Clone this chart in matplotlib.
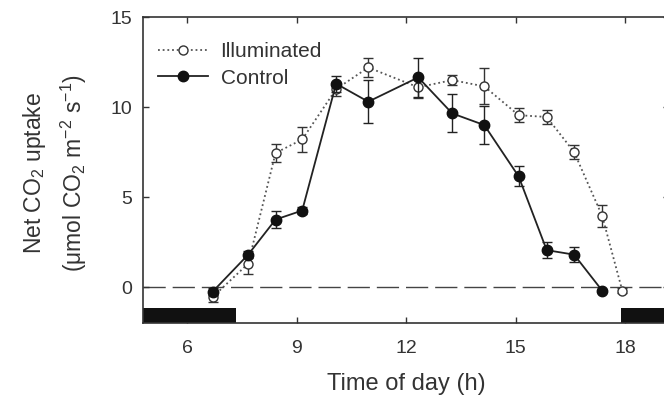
import matplotlib
matplotlib.use("Agg")
import matplotlib.pyplot as plt
from matplotlib.patches import Rectangle

plt.rcParams['font.family'] = ['Liberation Sans', 'DejaVu Sans']
plt.rcParams['mathtext.fontset'] = 'custom'
plt.rcParams['mathtext.rm'] = 'Liberation Sans'
plt.rcParams['mathtext.default'] = 'regular'

# measurement times (h)
hours = [6.70, 7.67, 8.42, 9.15, 10.08, 10.96, 12.33, 13.26, 14.14, 15.08, 15.85, 16.6, 17.37, 17.92]

illum = [-0.55, 1.3, 7.45, 8.2, 11.0, 12.2, 11.1, 11.5, 11.15, 9.55, 9.45, 7.5, 3.95, -0.2]
illum_err = [0.3, 0.6, 0.5, 0.7, 0.4, 0.55, 0.6, 0.3, 1.0, 0.4, 0.4, 0.4, 0.6, 0.15]

control = [-0.25, 1.8, 3.75, 4.25, 11.3, 10.3, 11.65, 9.65, 9.0, 6.15, 2.05, 1.8, -0.2]
control_err = [0.2, 0.2, 0.45, 0.2, 0.45, 1.2, 1.1, 1.05, 1.05, 0.55, 0.45, 0.4, 0.1]

# dark periods (start, end)
night = [(4.8, 7.34), (17.89, 19.2)]

fig = plt.figure(figsize=(6.64, 3.98), dpi=100)
ax = fig.add_axes([0.216, 0.1884, 0.7915, 0.7686])

ax.axhline(0, color='#444444', lw=1.0, dashes=(16, 5), zorder=1)

for start, end in night:
    ax.add_patch(Rectangle((start, -2), end - start, 0.85, color='#111111', lw=0, zorder=2))

ax.errorbar(hours, illum, yerr=illum_err, fmt='none', ecolor='#333333', elinewidth=1.0,
            capsize=3.5, capthick=1.0, zorder=3)
ax.plot(hours, illum, color='#555555', ls=(0, (1, 1.6)), lw=1.3, marker='o', ms=6.5,
        mfc='white', mec='#333333', mew=1.0, label='Illuminated', zorder=4)

n = len(control)
ax.errorbar(hours[:n], control, yerr=control_err, fmt='none', ecolor='#222222', elinewidth=1.0,
            capsize=3.5, capthick=1.0, zorder=5)
ax.plot(hours[:n], control, color='#222222', lw=1.3, marker='o', ms=7.5,
        mfc='#111111', mec='#111111', label='Control', zorder=6)

ax.set_xlim(4.8, 19.2)
ax.set_ylim(-2, 15)
ax.set_xticks([6, 9, 12, 15, 18])
ax.set_yticks([0, 5, 10, 15])
ax.tick_params(direction='in', length=4, width=1, top=True, right=True,
               labelsize=14, colors='#333333', labelcolor='#333333')
ax.tick_params(axis='x', pad=12)
ax.tick_params(axis='y', pad=8)
for s in ax.spines.values():
    s.set_linewidth(1.2)
    s.set_color('#333333')

ax.set_xlabel('Time of day (h)', fontsize=17, color='#333333', labelpad=12)
ax.set_ylabel('Net CO$_2$ uptake\n(μmol CO$_2$ m$^{-2}$ s$^{-1}$)', fontsize=16.5,
              color='#333333', linespacing=1.5)
ax.yaxis.set_label_coords(-0.103, 0.49)

ax.legend(loc='upper left', bbox_to_anchor=(0.0, 0.965), frameon=False, fontsize=15,
          handlelength=2.4, handletextpad=0.6, labelspacing=0.35, borderaxespad=0.3,
          labelcolor='#333333')

fig.savefig('out.png', dpi=100)
